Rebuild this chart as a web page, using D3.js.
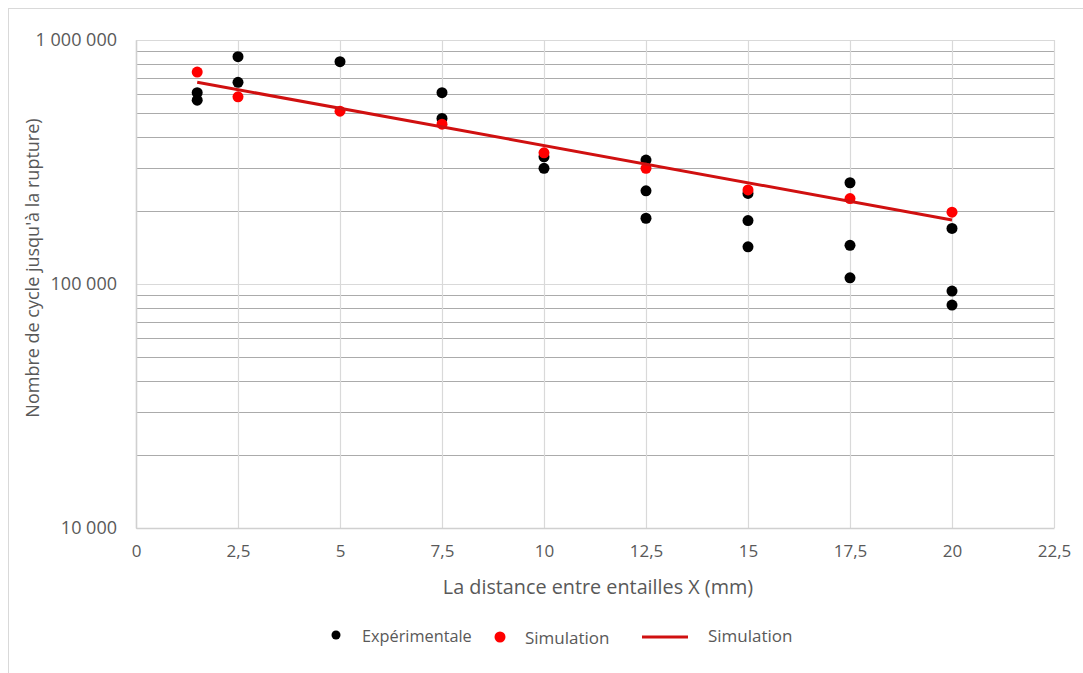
<!DOCTYPE html>
<html>
<head>
<meta charset="utf-8">
<script src="https://cdn.jsdelivr.net/npm/d3@7"></script>
<style>
  html, body { margin: 0; padding: 0; background: #fff; }
  svg { display: block; font-family: "Open Sans", Lato, sans-serif; }
</style>
</head>
<body>
<svg id="chart" width="1083" height="673"></svg>
<script>
// Experimental fatigue life (cycles to failure) vs notch spacing
const expX = [1.5, 1.5, 2.5, 2.5, 5, 7.5, 7.5, 10, 10, 12.5, 12.5, 12.5, 15, 15, 15, 17.5, 17.5, 17.5, 20, 20, 20];
const expY = [608000, 567000, 854000, 671000, 815000, 608000, 477000, 332000, 298000, 322000, 241000, 186000, 235000, 182000, 142000, 260000, 144000, 106000, 169000, 93500, 82000];

// Simulated points
const simX = [1.5, 2.5, 5, 7.5, 10, 12.5, 15, 17.5, 20];
const simY = [739000, 585000, 511000, 452000, 345000, 298000, 243000, 224000, 197000];

// Simulation trend line (straight on a log axis)
const lineX = [1.5, 20];
const lineY = [671000, 183000];

const xTicks = [0, 2.5, 5, 7.5, 10, 12.5, 15, 17.5, 20, 22.5];
const yTicks = [10000, 100000, 1000000];

const legendLabels = ["Expérimentale", "Simulation", "Simulation"];
const xTitle = "La distance entre entailles X (mm)";
const yTitle = "Nombre de cycle jusqu'à la rupture)";

const svg = d3.select("#chart");
const plot = { left: 136, top: 40, right: 1054, bottom: 528 };
const textColor = "#595959";

const x = d3.scaleLinear().domain([0, 22.5]).range([plot.left, plot.right]);
const y = d3.scaleLog().domain([10000, 1000000]).range([plot.bottom, plot.top]);

// outer frame
svg.append("rect")
  .attr("x", 8.5).attr("y", 8.5).attr("width", 1200).attr("height", 800)
  .attr("fill", "none").attr("stroke", "#d9d9d9").attr("stroke-width", 1);

const fmt = v => d3.format(",")(v).replace(/,/g, " ");
const fmtX = v => String(v).replace(".", ",");

// minor horizontal gridlines (2..9 in each decade)
const minor = [];
[10000, 100000].forEach(d => { for (let k = 2; k <= 9; k++) minor.push(d * k); });
svg.append("g").selectAll("line").data(minor).join("line")
  .attr("x1", plot.left).attr("x2", plot.right)
  .attr("y1", d => Math.round(y(d)) + 0.5).attr("y2", d => Math.round(y(d)) + 0.5)
  .attr("stroke", "#ababab").attr("stroke-width", 1.2);

// major horizontal gridlines
svg.append("g").selectAll("line").data(yTicks).join("line")
  .attr("x1", plot.left).attr("x2", plot.right)
  .attr("y1", d => Math.round(y(d)) + 0.5).attr("y2", d => Math.round(y(d)) + 0.5)
  .attr("stroke", "#d9d9d9").attr("stroke-width", 1.2);

// vertical gridlines
svg.append("g").selectAll("line").data(xTicks).join("line")
  .attr("x1", d => Math.round(x(d)) + 0.5).attr("x2", d => Math.round(x(d)) + 0.5)
  .attr("y1", plot.top).attr("y2", plot.bottom)
  .attr("stroke", "#d9d9d9").attr("stroke-width", 1.2);

// axes
const xAxis = d3.axisBottom(x).tickValues(xTicks).tickFormat(fmtX).tickSize(0).tickPadding(17);
const gx = svg.append("g").attr("transform", `translate(0,${plot.bottom})`).call(xAxis);
gx.select(".domain").attr("stroke", "#d0d0d0").attr("stroke-width", 1.5);
gx.selectAll("text").attr("fill", textColor).attr("font-size", 17).attr("font-family", "'Open Sans', sans-serif");

const yAxis = d3.axisLeft(y).tickValues(yTicks).tickFormat(fmt).tickSize(0).tickPadding(19);
const gy = svg.append("g").attr("transform", `translate(${plot.left},0)`).call(yAxis);
gy.select(".domain").attr("stroke", "#d0d0d0").attr("stroke-width", 1.5);
gy.selectAll("text").attr("fill", textColor).attr("font-size", 18).attr("font-family", "'Open Sans', sans-serif");

// axis titles
svg.append("text")
  .attr("x", 598).attr("y", 594)
  .attr("text-anchor", "middle").attr("fill", textColor).attr("font-size", 19.8)
  .text(xTitle);
svg.append("text")
  .attr("transform", "translate(39,268) rotate(-90)")
  .attr("text-anchor", "middle").attr("fill", textColor).attr("font-size", 18)
  .text(yTitle);

// experimental points
svg.append("g").selectAll("circle").data(expX.map((d, i) => [d, expY[i]])).join("circle")
  .attr("cx", d => x(d[0])).attr("cy", d => y(d[1])).attr("r", 5.5)
  .attr("fill", "#000");

// simulated points
svg.append("g").selectAll("circle").data(simX.map((d, i) => [d, simY[i]])).join("circle")
  .attr("cx", d => x(d[0])).attr("cy", d => y(d[1])).attr("r", 5.5)
  .attr("fill", "#ff0000");

// simulation trend line
svg.append("path")
  .datum(lineX.map((d, i) => [d, lineY[i]]))
  .attr("d", d3.line().x(d => x(d[0])).y(d => y(d[1])))
  .attr("fill", "none").attr("stroke", "#d01010").attr("stroke-width", 3);

// legend
const lg = svg.append("g").attr("font-size", 17).attr("fill", textColor);
lg.append("circle").attr("cx", 336).attr("cy", 635).attr("r", 4.5).attr("fill", "#000");
lg.append("text").attr("x", 362).attr("y", 642).attr("fill", textColor).attr("font-size", 16.3).text(legendLabels[0]);
lg.append("circle").attr("cx", 500).attr("cy", 637).attr("r", 5.5).attr("fill", "#ff0000");
lg.append("text").attr("x", 525).attr("y", 644).attr("fill", textColor).text(legendLabels[1]);
lg.append("line").attr("x1", 642).attr("x2", 688).attr("y1", 637).attr("y2", 637)
  .attr("stroke", "#d01010").attr("stroke-width", 3);
lg.append("text").attr("x", 708).attr("y", 642).attr("fill", textColor).text(legendLabels[2]);
</script>
</body>
</html>
